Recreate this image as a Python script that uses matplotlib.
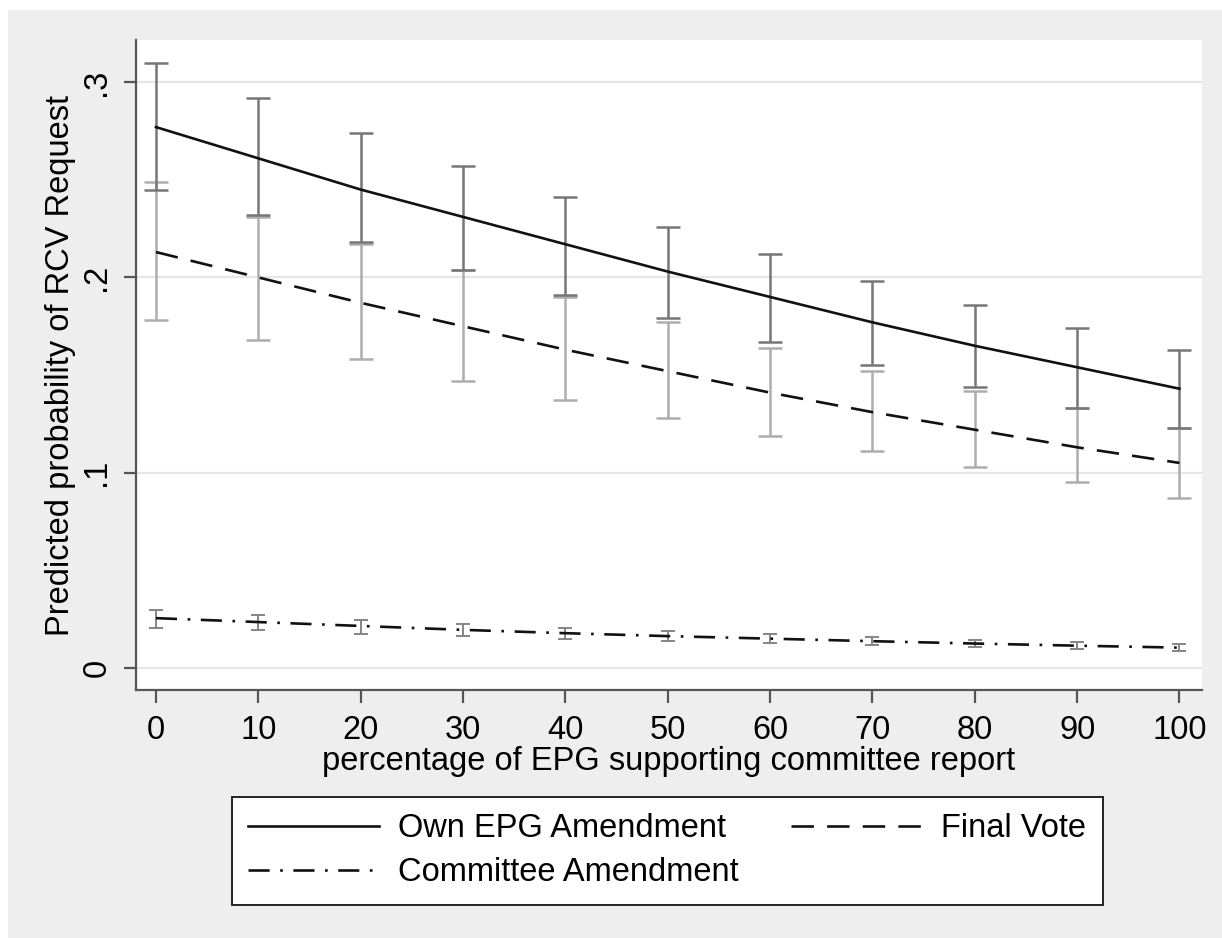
import matplotlib
matplotlib.use("Agg")
import matplotlib.pyplot as plt
from matplotlib.patches import Rectangle

plt.rcParams['font.family'] = ['Liberation Sans', 'DejaVu Sans']

# ---- data ----
pct = [0, 10, 20, 30, 40, 50, 60, 70, 80, 90, 100]

own = [0.277, 0.261, 0.245, 0.231, 0.217, 0.203, 0.190, 0.177, 0.165, 0.154, 0.143]
own_hi = [0.310, 0.292, 0.274, 0.257, 0.241, 0.226, 0.212, 0.198, 0.186, 0.174, 0.163]
own_lo = [0.245, 0.232, 0.218, 0.204, 0.191, 0.179, 0.167, 0.155, 0.144, 0.133, 0.123]

final = [0.213, 0.200, 0.187, 0.175, 0.163, 0.152, 0.141, 0.131, 0.122, 0.113, 0.105]
final_hi = [0.249, 0.231, 0.217, 0.204, 0.190, 0.177, 0.164, 0.152, 0.142, 0.133, 0.123]
final_lo = [0.178, 0.168, 0.158, 0.147, 0.137, 0.128, 0.119, 0.111, 0.103, 0.095, 0.087]

comm = [0.0255, 0.0235, 0.0215, 0.0195, 0.0178, 0.0163, 0.0150, 0.0137, 0.0125, 0.0114, 0.0104]
comm_hi = [0.0296, 0.0272, 0.0246, 0.0225, 0.0204, 0.0188, 0.0172, 0.0157, 0.0145, 0.0133, 0.0122]
comm_lo = [0.0206, 0.0192, 0.0176, 0.0163, 0.0150, 0.0138, 0.0128, 0.0117, 0.0105, 0.0095, 0.0086]

labels = ["Own EPG Amendment", "Committee Amendment", "Final Vote"]
xticks = [0, 10, 20, 30, 40, 50, 60, 70, 80, 90, 100]
yticks = [0, 0.1, 0.2, 0.3]
yticklabels = ["0", ".1", ".2", ".3"]
xlabel = "percentage of EPG supporting committee report"
ylabel = "Predicted probability of RCV Request"

W, H = 1222, 938
FS = 23.5
fig = plt.figure(figsize=(W / 100, H / 100), dpi=100)
fig.patch.set_facecolor("white")
fig.add_artist(Rectangle((8 / W, 0), 1 - 8 / W, 1 - 10 / H, transform=fig.transFigure,
                         facecolor="#eeeeee", edgecolor="none", zorder=-10))

ax = fig.add_axes([136 / W, (H - 690) / H, (1202 - 136) / W, (690 - 40) / H])
ax.set_facecolor("white")
ax.set_xlim(-1.95, 102.2)
ax.set_ylim(-0.0113, 0.3216)

for yv in yticks:
    ax.axhline(yv, color="#e6e6e6", lw=1.6, zorder=0)


def errs(v, lo, hi):
    return [[a - b for a, b in zip(v, lo)], [b - a for a, b in zip(v, hi)]]

ax.errorbar(pct, final, yerr=errs(final, final_lo, final_hi), fmt="none",
            ecolor="#adadad", elinewidth=1.8, capsize=8.5, capthick=1.8, zorder=2)
ax.errorbar(pct, own, yerr=errs(own, own_lo, own_hi), fmt="none",
            ecolor="#767676", elinewidth=1.8, capsize=8.5, capthick=1.8, zorder=3)
ax.errorbar(pct, comm, yerr=errs(comm, comm_lo, comm_hi), fmt="none",
            ecolor="#858585", elinewidth=1.4, capsize=5, capthick=1.4, zorder=3)

l1, = ax.plot(pct, own, color="#111111", lw=1.9, zorder=4)
l3, = ax.plot(pct, final, color="#111111", lw=1.9, dashes=(8.5, 5), zorder=4)
l2, = ax.plot(pct, comm, color="#111111", lw=1.9, dashes=(8, 4, 1, 4), zorder=4)

ax.set_xticks(xticks)
ax.set_xticklabels([str(t) for t in xticks], fontsize=FS)
ax.set_yticks(yticks)
ax.set_yticklabels(yticklabels, fontsize=FS, rotation=90, va="center")
ax.tick_params(axis="both", direction="out", length=9, width=1.6, color="#555555")
ax.tick_params(axis="x", pad=9)
ax.tick_params(axis="y", pad=8)

for s in ["top", "right"]:
    ax.spines[s].set_visible(False)
for s in ["left", "bottom"]:
    ax.spines[s].set_color("#555555")
    ax.spines[s].set_linewidth(1.6)

ax.set_xlabel(xlabel, fontsize=FS, labelpad=0)
ax.set_ylabel(ylabel, fontsize=FS, labelpad=4)

leg = fig.legend([l1, l2, l3], labels, ncol=2, loc="upper left",
                 bbox_to_anchor=(232 / W, 1 - 797 / H), fontsize=FS,
                 frameon=True, fancybox=False, handlelength=4.0,
                 columnspacing=1.6, borderpad=0.5, labelspacing=0.4,
                 handletextpad=0.6, borderaxespad=0)
fr = leg.get_frame()
fr.set_edgecolor("#222222")
fr.set_linewidth(1.4)
fr.set_facecolor("white")
fr.set_alpha(1)

fig.savefig("out.png", dpi=100, facecolor=fig.get_facecolor())
